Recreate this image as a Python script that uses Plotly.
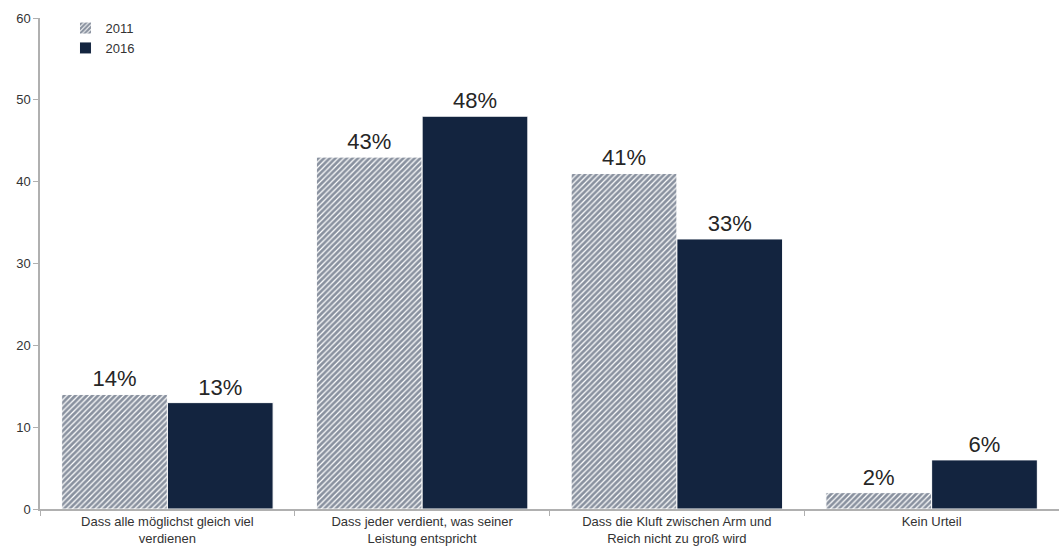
import plotly.graph_objects as go

categories = ["Dass alle möglichst gleich viel<br>verdienen",
              "Dass jeder verdient, was seiner<br>Leistung entspricht",
              "Dass die Kluft zwischen Arm und<br>Reich nicht zu groß wird",
              "Kein Urteil"]
values_2011 = [14, 43, 41, 2]
values_2016 = [13, 48, 33, 6]

navy = "#13243f"

fig = go.Figure()
fig.add_trace(go.Bar(
    x=categories, y=values_2011, name="2011",
    marker=dict(color="white",
                pattern=dict(shape="/", fgcolor=navy, bgcolor="white", size=4, solidity=0.7),
                line=dict(color="white", width=1)),
    text=[f"{v}%" for v in values_2011], textposition="outside",
    textfont=dict(size=22, color="#262626"), cliponaxis=False,
))
fig.add_trace(go.Bar(
    x=categories, y=values_2016, name="2016",
    marker=dict(color=navy, line=dict(color="white", width=1)),
    text=[f"{v}%" for v in values_2016], textposition="outside",
    textfont=dict(size=22, color="#262626"), cliponaxis=False,
))

fig.update_layout(
    width=1059, height=556,
    margin=dict(l=40, r=0, t=18, b=47),
    paper_bgcolor="white", plot_bgcolor="white",
    barmode="group", bargap=0.17, bargroupgap=0,
    font=dict(family="Liberation Sans, Arial, sans-serif", size=13, color="#333333"),
    legend=dict(x=0.025, y=1.01, xanchor="left", yanchor="top",
                font=dict(size=13, color="#333333"), bgcolor="rgba(0,0,0,0)",
                itemwidth=30, tracegroupgap=0),
    showlegend=True,
)
fig.update_xaxes(showline=True, linecolor="#b0b0b0", linewidth=1.5,
                 ticks="outside", tickson="boundaries", tickcolor="#b0b0b0", ticklen=5,
                 tickfont=dict(size=13, color="#333333"), showgrid=False)
fig.update_yaxes(range=[0, 60], dtick=10, showline=True, linecolor="#b0b0b0", linewidth=1.5,
                 ticks="outside", tickcolor="#b0b0b0", ticklen=5,
                 tickfont=dict(size=13, color="#333333"), showgrid=False, zeroline=False)

fig.write_html("out.html")
